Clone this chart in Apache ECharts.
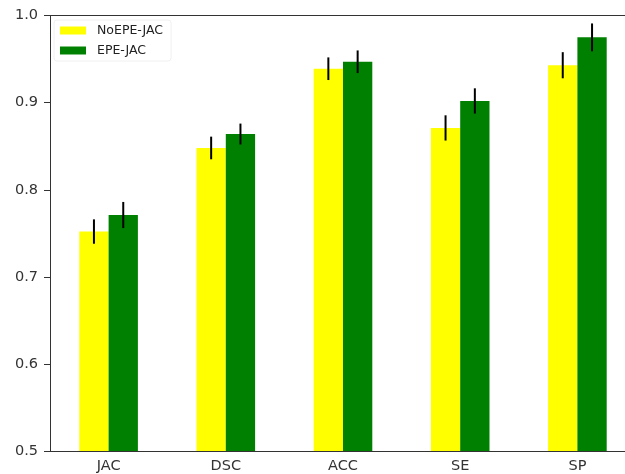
<!DOCTYPE html>
<html>
<head>
<meta charset="utf-8">
<script src="https://cdn.jsdelivr.net/npm/echarts@6/dist/echarts.min.js"></script>
<style>
  html, body { margin: 0; padding: 0; background: #fff; overflow: hidden; }
  #chart { width: 640px; height: 474px; }
</style>
</head>
<body>
<div id="chart"></div>
<script>
// метрики и значения
const categories = ['JAC', 'DSC', 'ACC', 'SE', 'SP'];
const noEpeMean = [0.752, 0.848, 0.939, 0.871, 0.943];
const noEpeErr  = [0.014, 0.013, 0.013, 0.0145, 0.015];
const epeMean   = [0.771, 0.864, 0.947, 0.902, 0.975];
const epeErr    = [0.015, 0.012, 0.013, 0.0145, 0.016];
const yTicks    = [0.5, 0.6, 0.7, 0.8, 0.9, 1.0];

const BAR_FRAC = 0.25; // ширина столбика в долях категории

function errSeries(mean, err, side) {
  return {
    type: 'custom',
    silent: true,
    z: 5,
    data: mean.map(function (m, i) { return [i, m - err[i], m + err[i]]; }),
    renderItem: function (params, api) {
      const band = api.size([1, 0])[0];
      const lo = api.coord([api.value(0), api.value(1)]);
      const hi = api.coord([api.value(0), api.value(2)]);
      const x = lo[0] + side * band * BAR_FRAC / 2;
      return {
        type: 'line',
        shape: { x1: x, y1: lo[1], x2: x, y2: hi[1] },
        style: { stroke: '#000', lineWidth: 2 }
      };
    }
  };
}

// правый край графика уходит за кадр (как на исходнике), поэтому div шире окна
const chart = echarts.init(document.getElementById('chart'));
chart.setOption({
  animation: false,
  backgroundColor: '#fff',
  textStyle: { fontFamily: 'DejaVu Sans' },
  grid: { left: 50, top: 15.6, width: 586, height: 435.4 },
  legend: {
    orient: 'vertical', left: 54, top: 20,
    padding: [4, 8, 4, 6],
    borderColor: '#f0f0f0', borderWidth: 1, borderRadius: 3,
    icon: 'rect',
    itemWidth: 26, itemHeight: 8, itemGap: 7,
    textStyle: { fontSize: 12.5, color: '#222', padding: [0, 0, 0, 6] },
    data: ['NoEPE-JAC', 'EPE-JAC']
  },
  xAxis: [
    {
      type: 'category',
      data: categories,
      axisLine: { lineStyle: { color: '#333', width: 1 } },
      axisTick: { alignWithLabel: true, length: 5, lineStyle: { color: '#333' } },
      axisLabel: { fontSize: 14.5, color: '#333', margin: 8 }
    },
    {
      // верхняя рамка
      type: 'category', position: 'top', data: categories,
      axisLine: { show: true, lineStyle: { color: '#333', width: 1 } },
      axisTick: { show: false }, axisLabel: { show: false }
    }
  ],
  yAxis: {
    type: 'value',
    min: 0.5, max: 1.0, interval: 0.1,
    axisLine: { show: true, lineStyle: { color: '#333', width: 1 } },
    axisTick: { show: true, length: 6, lineStyle: { color: '#333' } },
    splitLine: { show: false },
    axisLabel: {
      fontSize: 14.5, color: '#333', margin: 12,
      formatter: function (v) {
        const t = yTicks.find(function (k) { return Math.abs(k - v) < 1e-6; });
        return t === undefined ? '' : t.toFixed(1);
      }
    }
  },
  series: [
    {
      name: 'NoEPE-JAC', type: 'bar', data: noEpeMean,
      barWidth: (BAR_FRAC * 100) + '%', barGap: '0%',
      itemStyle: { color: '#ffff00' }
    },
    {
      name: 'EPE-JAC', type: 'bar', data: epeMean,
      barWidth: (BAR_FRAC * 100) + '%', barGap: '0%',
      itemStyle: { color: '#008000' }
    },
    errSeries(noEpeMean, noEpeErr, -1),
    errSeries(epeMean, epeErr, 1)
  ]
});
</script>
</body>
</html>
